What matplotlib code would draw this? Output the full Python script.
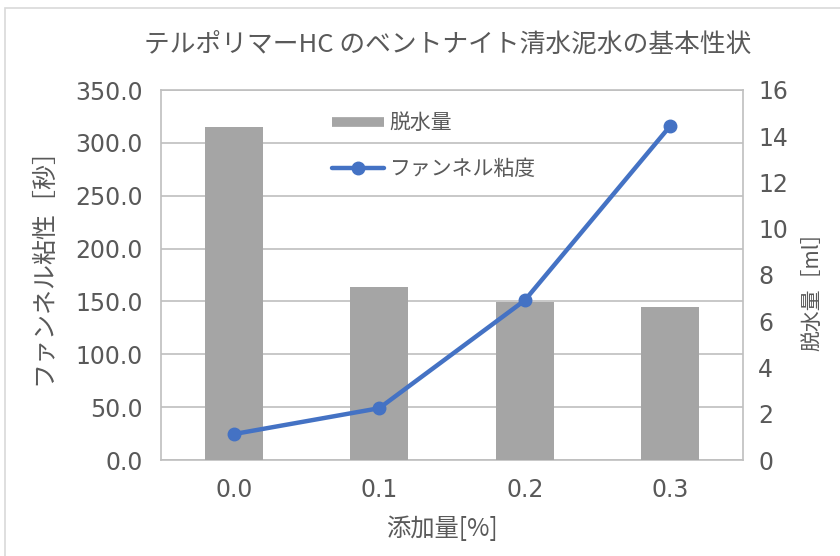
import matplotlib
matplotlib.use('Agg')
import matplotlib.pyplot as plt
from matplotlib.lines import Line2D
from matplotlib.patches import Rectangle

plt.rcParams['font.family'] = ['Noto Sans CJK JP', 'DejaVu Sans']

# data
additive = ['0.0', '0.1', '0.2', '0.3']
dewater = [14.4, 7.5, 6.85, 6.6]          # 脱水量 [ml]
funnel = [24.5, 49.0, 151.0, 316.0]       # ファンネル粘度 [秒]

text_col = '#595959'
grid_col = '#BFBFBF'
bar_col = '#A5A5A5'
line_col = '#4472C4'
num_font = 'DejaVu Sans'

fig = plt.figure(figsize=(8.4, 5.56), dpi=100)
fig.patches.append(Rectangle((5 / 840, -0.1), 1.2, (556 - 8) / 556 + 0.1,
                             transform=fig.transFigure, fill=False,
                             edgecolor='#D9D9D9', linewidth=1.2))

pos = [161 / 840, 96 / 556, 582 / 840, 370 / 556]
ax = fig.add_axes(pos)
x = list(range(len(additive)))

# left axis: grid + ticks
ax.set_xlim(-0.5, len(additive) - 0.5)
ax.set_ylim(0, 350)
ax.set_yticks(range(0, 351, 50))
ax.set_yticklabels([f'{v:.1f}' for v in range(0, 351, 50)])
ax.grid(axis='y', color=grid_col, linewidth=1.2)
ax.set_xticks(x)
ax.set_xticklabels(additive)
ax.tick_params(axis='y', length=0, pad=13, labelsize=17, labelcolor=text_col)
ax.tick_params(axis='x', length=0, pad=13, labelsize=17, labelcolor=text_col)
for lab in ax.get_xticklabels() + ax.get_yticklabels():
    lab.set_family(num_font)
for s in ax.spines.values():
    s.set_color(grid_col)
    s.set_linewidth(1.2)
ax.set_ylabel('ファンネル粘性［秒］', fontsize=18, color=text_col)
ax.yaxis.set_label_coords(-0.18, 0.54)
ax.set_xlabel('添加量[%]', fontsize=17.5, color=text_col)
ax.xaxis.set_label_coords(0.483, -0.152)

# right axis: bars
ax2 = ax.twinx()
ax2.bar(x, dewater, width=0.4, color=bar_col, zorder=2)
ax2.set_ylim(0, 16)
ax2.set_yticks(range(0, 17, 2))
ax2.tick_params(axis='y', length=0, pad=11, labelsize=17, labelcolor=text_col)
for lab in ax2.get_yticklabels():
    lab.set_family(num_font)
for s in ax2.spines.values():
    s.set_visible(False)
ax2.set_ylabel('脱水量［ml］', fontsize=15, color=text_col)
ax2.yaxis.set_label_coords(1.101, 0.47)

# line on top, same scale as left axis
ax3 = ax.twinx()
ax3.set_ylim(0, 350)
ax3.plot(x, funnel, color=line_col, linewidth=3.2, marker='o', markersize=9,
         solid_capstyle='round')
ax3.set_yticks([])
for s in ax3.spines.values():
    s.set_visible(False)

handles = [Line2D([0], [0], color=bar_col, linewidth=7, solid_capstyle='butt'),
           Line2D([0], [0], color=line_col, linewidth=3.2, marker='o', markersize=9,
                  solid_capstyle='round')]
leg = ax3.legend(handles, ['脱水量', 'ファンネル粘度'], loc='upper left',
                 bbox_to_anchor=(0.262, 0.99), frameon=False, fontsize=15,
                 handlelength=2.5, labelspacing=1.15, handletextpad=0.25)
for t in leg.get_texts():
    t.set_color(text_col)

fig.text(448 / 840, 1 - 45 / 556, 'テルポリマーHC のベントナイト清水泥水の基本性状',
         ha='center', va='center', fontsize=18.5, color=text_col)

fig.savefig('out.png', dpi=100)
